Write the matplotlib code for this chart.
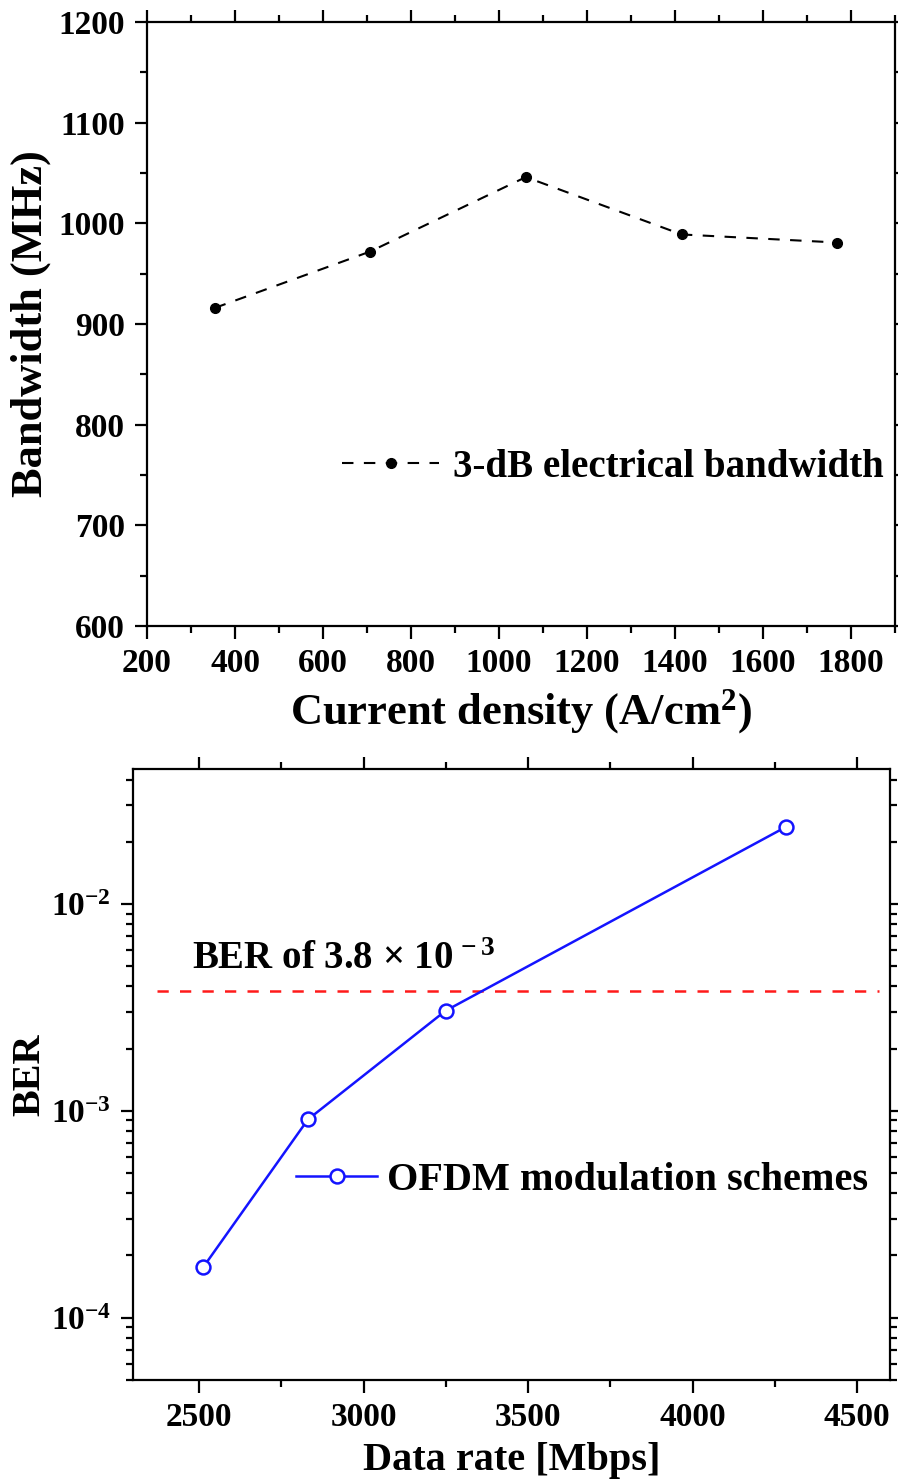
import matplotlib
matplotlib.use("Agg")
import matplotlib.pyplot as plt
from matplotlib.ticker import MultipleLocator, LogLocator, NullFormatter

# ---- data ----
current_density = [354, 707, 1061, 1415, 1768]          # A/cm^2
bandwidth_mhz = [916, 972, 1046, 989, 981]              # MHz

data_rate_mbps = [2512, 2831, 3249, 4283]
ber_values = [1.75e-4, 9.1e-4, 3.05e-3, 2.36e-2]
ber_threshold = 3.8e-3

plt.rcParams["font.family"] = ["Liberation Serif", "DejaVu Serif"]
plt.rcParams["font.weight"] = "bold"
plt.rcParams["mathtext.fontset"] = "custom"
plt.rcParams["mathtext.rm"] = "Liberation Serif:bold"
plt.rcParams["mathtext.bf"] = "Liberation Serif:bold"
plt.rcParams["mathtext.it"] = "Liberation Serif:bold:italic"
plt.rcParams["mathtext.default"] = "rm"

fig = plt.figure(figsize=(8.98, 14.81), dpi=100)

ax1 = fig.add_axes([0.1637, 0.5773, 0.9967 - 0.1637, 0.9851 - 0.5773])
ax2 = fig.add_axes([0.1484, 0.0682, 0.9911 - 0.1484, 0.4807 - 0.0682])


def style_axes(ax, size):
    for sp in ax.spines.values():
        sp.set_linewidth(1.6)
    ax.tick_params(which="both", direction="out", top=True, right=True,
                   labeltop=False, labelright=False, width=1.6,
                   labelsize=size, pad=7)
    ax.tick_params(which="major", length=9)
    ax.tick_params(which="minor", length=5)
    for lab in ax.get_xticklabels() + ax.get_yticklabels():
        lab.set_fontweight("bold")


# ---- top panel: bandwidth vs current density ----
ax1.plot(current_density, bandwidth_mhz, color="black", linestyle=(0, (5.5, 5)),
         linewidth=1.5, marker="o", markersize=7,
         label="3-dB electrical bandwidth")
ax1.set_xlim(200, 1900)
ax1.set_ylim(600, 1200)
ax1.xaxis.set_major_locator(MultipleLocator(200))
ax1.xaxis.set_minor_locator(MultipleLocator(100))
ax1.yaxis.set_major_locator(MultipleLocator(100))
ax1.yaxis.set_minor_locator(MultipleLocator(50))
style_axes(ax1, 24)
ax1.set_xlabel("Current density (A/cm$^{2}$)", fontsize=32, fontweight="bold",
               labelpad=6)
ax1.set_ylabel("Bandwidth (MHz)", fontsize=32, fontweight="bold")
ax1.yaxis.set_label_coords(-0.128, 0.5)
leg1 = ax1.legend(loc="center right", bbox_to_anchor=(0.985, 0.263),
                  frameon=False, fontsize=28, handlelength=2.5,
                  handletextpad=0.35, borderpad=0, borderaxespad=0,
                  numpoints=1)

# ---- bottom panel: BER vs data rate ----
ax2.axhline(ber_threshold, xmin=0.031, xmax=0.985, color="#ff1a1a",
            linestyle=(0, (4.5, 4.5)), linewidth=1.8)
ax2.plot(data_rate_mbps, ber_values, color="#1414ff", linewidth=1.8,
         marker="o", markersize=10, markerfacecolor="white",
         markeredgewidth=1.8, label="OFDM modulation schemes")
ax2.set_yscale("log")
ax2.set_xlim(2300, 4600)
ax2.set_ylim(5e-5, 4.5e-2)
ax2.xaxis.set_major_locator(MultipleLocator(500))
ax2.xaxis.set_minor_locator(MultipleLocator(250))
ax2.yaxis.set_major_locator(LogLocator(base=10, numticks=10))
ax2.yaxis.set_minor_locator(LogLocator(base=10, subs=range(2, 10), numticks=20))
ax2.yaxis.set_minor_formatter(NullFormatter())
style_axes(ax2, 24)
ax2.set_xlabel("Data rate [Mbps]", fontsize=29, fontweight="bold", labelpad=6)
ax2.set_ylabel("BER", fontsize=29, fontweight="bold")
ax2.yaxis.set_label_coords(-0.112, 0.5)
ax2.text(0.0776, 0.673, "BER of 3.8 × 10$^{\\,-3}$", transform=ax2.transAxes,
         fontsize=28, fontweight="bold", ha="left", va="baseline")
leg2 = ax2.legend(loc="center right", bbox_to_anchor=(0.971, 0.326),
                  frameon=False, fontsize=29, handlelength=2.0,
                  handletextpad=0.25, borderpad=0, borderaxespad=0,
                  numpoints=1)

fig.savefig("out.png", dpi=100)
